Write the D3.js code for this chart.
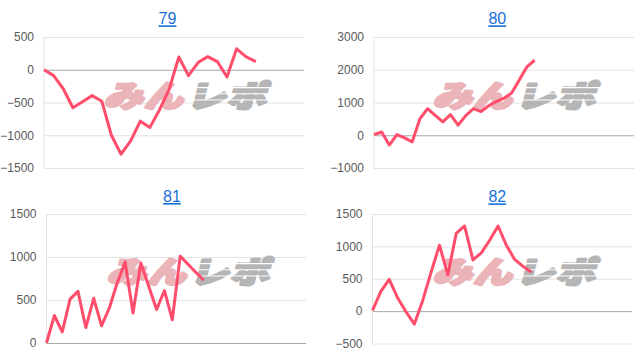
<!DOCTYPE html>
<html><head><meta charset="utf-8">
<script src="https://cdn.jsdelivr.net/npm/d3@7"></script>
<style>html,body{margin:0;padding:0;background:#fff;} svg{display:block;}</style>
</head><body><svg id="c" width="644" height="356"></svg>
<script>
// ---- data ----
const titles = ["79", "80", "81", "82"];
const series79 = [0,-90,-290,-580,-490,-395,-480,-1000,-1290,-1085,-785,-880,-610,-300,195,-90,110,200,125,-110,320,195,125];
const series80 = [20,100,-300,20,-80,-200,500,810,610,410,630,310,600,810,720,900,1030,1130,1290,1690,2090,2290];
const series81 = [0,320,130,510,600,180,520,200,410,700,940,350,930,660,390,610,270,1010,915,820,730];
const series82 = [10,305,490,205,-10,-200,165,600,1020,560,1200,1315,790,900,1095,1315,1015,795,690,600];
const ticks79 = [-1500,-1000,-500,0,500];
const ticks80 = [-1000,0,1000,2000,3000];
const ticks81 = [0,500,1000,1500];
const ticks82 = [-500,0,500,1000,1500];
const slots79 = 27, slots80 = 34, slots81 = 33, slots82 = 31;
const watermarkA = "みん", watermarkB = "レポ";

// ---- layout ----
const panels = [
  {s:series79, t:ticks79, n:slots79, x0:44,  x1:304, y0:37,  y1:168, tx:167.5, ty:24.3, wx:104, wy:80},
  {s:series80, t:ticks80, n:slots80, x0:374, x1:634, y0:37,  y1:168, tx:497.3, ty:24.3, wx:433, wy:80},
  {s:series81, t:ticks81, n:slots81, x0:46.5,x1:306, y0:214, y1:343, tx:172,   ty:202,  wx:107, wy:256},
  {s:series82, t:ticks82, n:slots82, x0:372.5,x1:632,y0:214, y1:343.5, tx:497.3, ty:202.3, wx:433, wy:256}
];

const svg = d3.select("#c");
panels.forEach((p, k) => {
  const g = svg.append("g");
  const x = d3.scaleLinear().domain([0, p.n]).range([p.x0, p.x1]);
  const y = d3.scaleLinear().domain(d3.extent(p.t)).range([p.y1, p.y0]);

  const ax = g.append("g").attr("transform", `translate(${p.x0},0)`)
    .call(d3.axisLeft(y).tickValues(p.t).tickSize(-(p.x1 - p.x0)).tickPadding(10).tickFormat(d3.format("d")));
  ax.select(".domain").remove();
  ax.selectAll(".tick line").attr("stroke", d => d === 0 ? "#a8a8a8" : "#e3e3e3").attr("stroke-width", 1);
  ax.selectAll(".tick text").attr("fill", "#5a5a5a").style("font-family", "Arial, 'Liberation Sans', sans-serif").style("font-size", "12px");
  g.append("line").attr("x1", p.x0).attr("x2", p.x0).attr("y1", p.y0).attr("y2", p.y1)
    .attr("stroke", "#e3e3e3");

  // watermark
  const wm = g.append("g").attr("transform", `translate(${p.wx},${p.wy + 27}) skewX(-14) scale(1.15,0.88)`);
  const font = "'Noto Sans CJK JP', sans-serif";
  wm.append("text").text(watermarkA).attr("x", 0).attr("y", 0)
    .attr("fill", "#eab4b8").attr("stroke", "#eab4b8").attr("stroke-width", 3.2).attr("stroke-linejoin", "round")
    .style("font-family", font).style("font-weight", 900).style("font-size", "34px").style("letter-spacing", "1px");
  wm.append("text").text(watermarkB).attr("x", 72).attr("y", 0)
    .attr("fill", "#b5b5b5").attr("stroke", "#b5b5b5").attr("stroke-width", 3.2).attr("stroke-linejoin", "round")
    .style("font-family", font).style("font-weight", 900).style("font-size", "34px").style("letter-spacing", "1px");
  // speed stripes across the grey half
  [-22, -15, -8].forEach(dy => {
    wm.append("line").attr("x1", 68).attr("x2", 144).attr("y1", dy).attr("y2", dy)
      .attr("stroke", "#fff").attr("stroke-width", 1.2);
  });

  // line
  const line = d3.line().x((d, i) => x(i)).y(d => y(d));
  g.append("path").datum(p.s).attr("d", line).attr("fill", "none")
    .attr("stroke", "#ff4d6b").attr("stroke-width", 3).attr("stroke-linejoin", "round");

  // title
  g.append("text").text(titles[k]).attr("x", p.tx).attr("y", p.ty).attr("text-anchor", "middle")
    .attr("fill", "#1a6fd6").style("font-family", "Arial, 'Liberation Sans', sans-serif")
    .style("font-size", "16px").style("text-decoration", "underline");
});
</script></body></html>
